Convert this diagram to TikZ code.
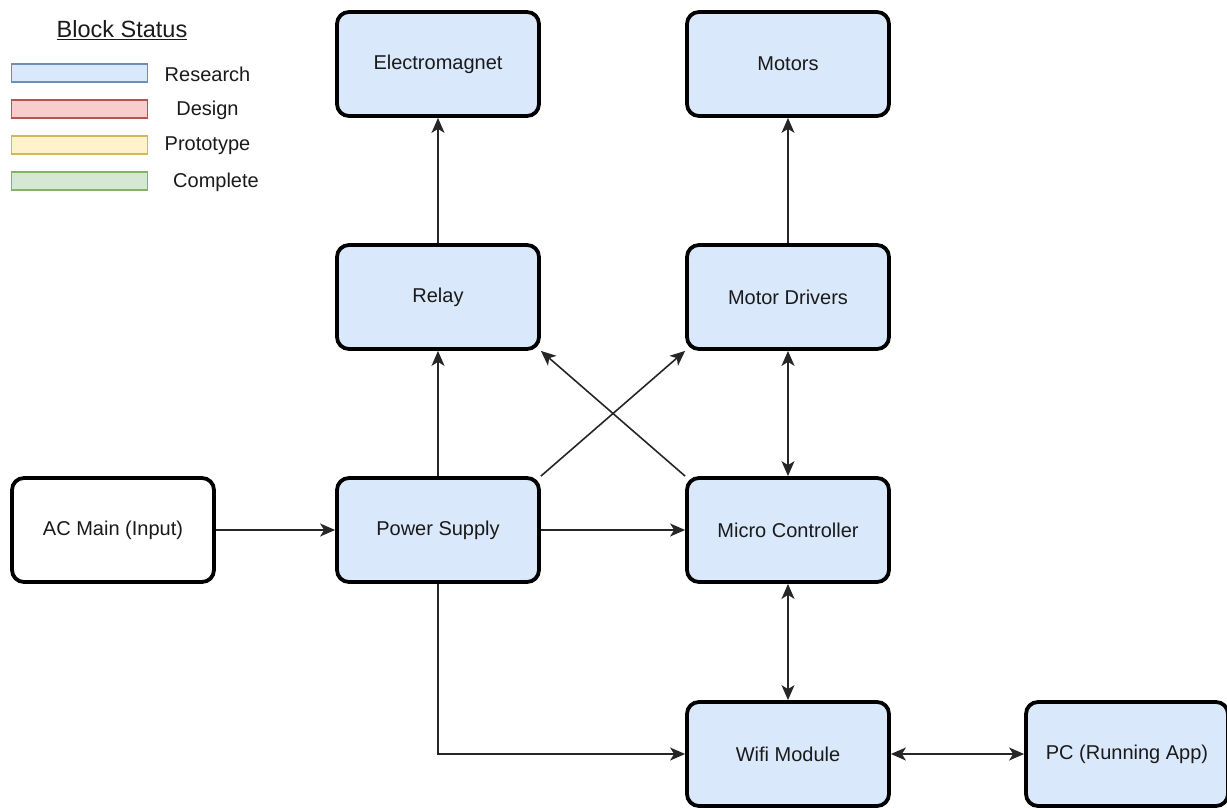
\documentclass[tikz,border=0pt]{standalone}
\usepackage{fontspec}
\setmainfont{Liberation Sans}
\usetikzlibrary{arrows.meta}
\definecolor{resfill}{HTML}{DAE8FC}\definecolor{resdraw}{HTML}{6C8EBF}
\definecolor{desfill}{HTML}{F8CECC}\definecolor{desdraw}{HTML}{B85450}
\definecolor{profill}{HTML}{FFF2CC}\definecolor{prodraw}{HTML}{D6B656}
\definecolor{comfill}{HTML}{D5E8D4}\definecolor{comdraw}{HTML}{82B366}
\definecolor{txt}{HTML}{1A1A1A}
\tikzset{
  blk/.style={draw=black, line width=3.8pt, rounded corners=12pt, fill=resfill,
    minimum width=202pt, minimum height=104pt, inner sep=0pt,
    font=\fontsize{20}{22}\selectfont, text=txt},
  blkw/.style={blk, fill=white},
  tip/.style={Stealth[length=15pt,width=13pt,inset=4pt]},
  conn/.style={draw=black!85, line width=1.6pt, -{Stealth[length=15pt,width=13pt,inset=4pt]}},
  bconn/.style={conn, {Stealth[length=15pt,width=13pt,inset=4pt]}-{Stealth[length=15pt,width=13pt,inset=4pt]}},
  sw/.style={line width=1.5pt, minimum width=136pt, minimum height=18pt, inner sep=0pt},
  lbl/.style={font=\fontsize{20}{22}\selectfont, text=txt, inner sep=0pt},
}
\begin{document}
\begin{tikzpicture}[x=1pt,y=-1pt]
\useasboundingbox (0,0) rectangle (1227,808);
% legend
\node[font=\fontsize{23.5}{26}\selectfont, text=txt, inner sep=0pt] (ttl) at (122,30) {\underline{Block Status}};
\node[sw, draw=resdraw, fill=resfill] (s1) at (79.5,73) {};
\node[sw, draw=desdraw, fill=desfill] (s2) at (79.5,109) {};
\node[sw, draw=prodraw, fill=profill] (s3) at (79.5,145) {};
\node[sw, draw=comdraw, fill=comfill] (s4) at (79.5,181) {};
\node[lbl] (l1) at (207.5,74) {Research};
\node[lbl] (l2) at (207.5,110) {Design};
\node[lbl] (l3) at (207.5,146) {Prototype};
\node[lbl] (l4) at (216,182) {Complete};
% blocks
\node[blk] (em) at (438,64) {Electromagnet};
\node[blk] (mo) at (788,64) {Motors};
\node[blk] (re) at (438,297) {Relay};
\node[blk] (md) at (788,297) {Motor Drivers};
\node[blkw] (ac) at (113,530) {AC Main (Input)};
\node[blk] (ps) at (438,530) {Power Supply};
\node[blk] (mc) at (788,530) {Micro Controller};
\node[blk] (wf) at (788,754) {Wifi Module};
\node[blk] (pc) at (1127,754) {PC (Running App)};
% connectors
\draw[conn] (re.north) -- (em.south);
\draw[conn] (md.north) -- (mo.south);
\draw[conn] (ps.north) -- (re.south);
\draw[conn] (ac.east) -- (ps.west);
\draw[conn] (ps.east) -- (mc.west);
\draw[conn] (ps.north east) -- (md.south west);
\draw[conn] (mc.north west) -- (re.south east);
\draw[bconn] (md.south) -- (mc.north);
\draw[bconn] (mc.south) -- (wf.north);
\draw[conn] (ps.south) |- (wf.west);
\draw[bconn] (wf.east) -- (pc.west);
\end{tikzpicture}
\end{document}
